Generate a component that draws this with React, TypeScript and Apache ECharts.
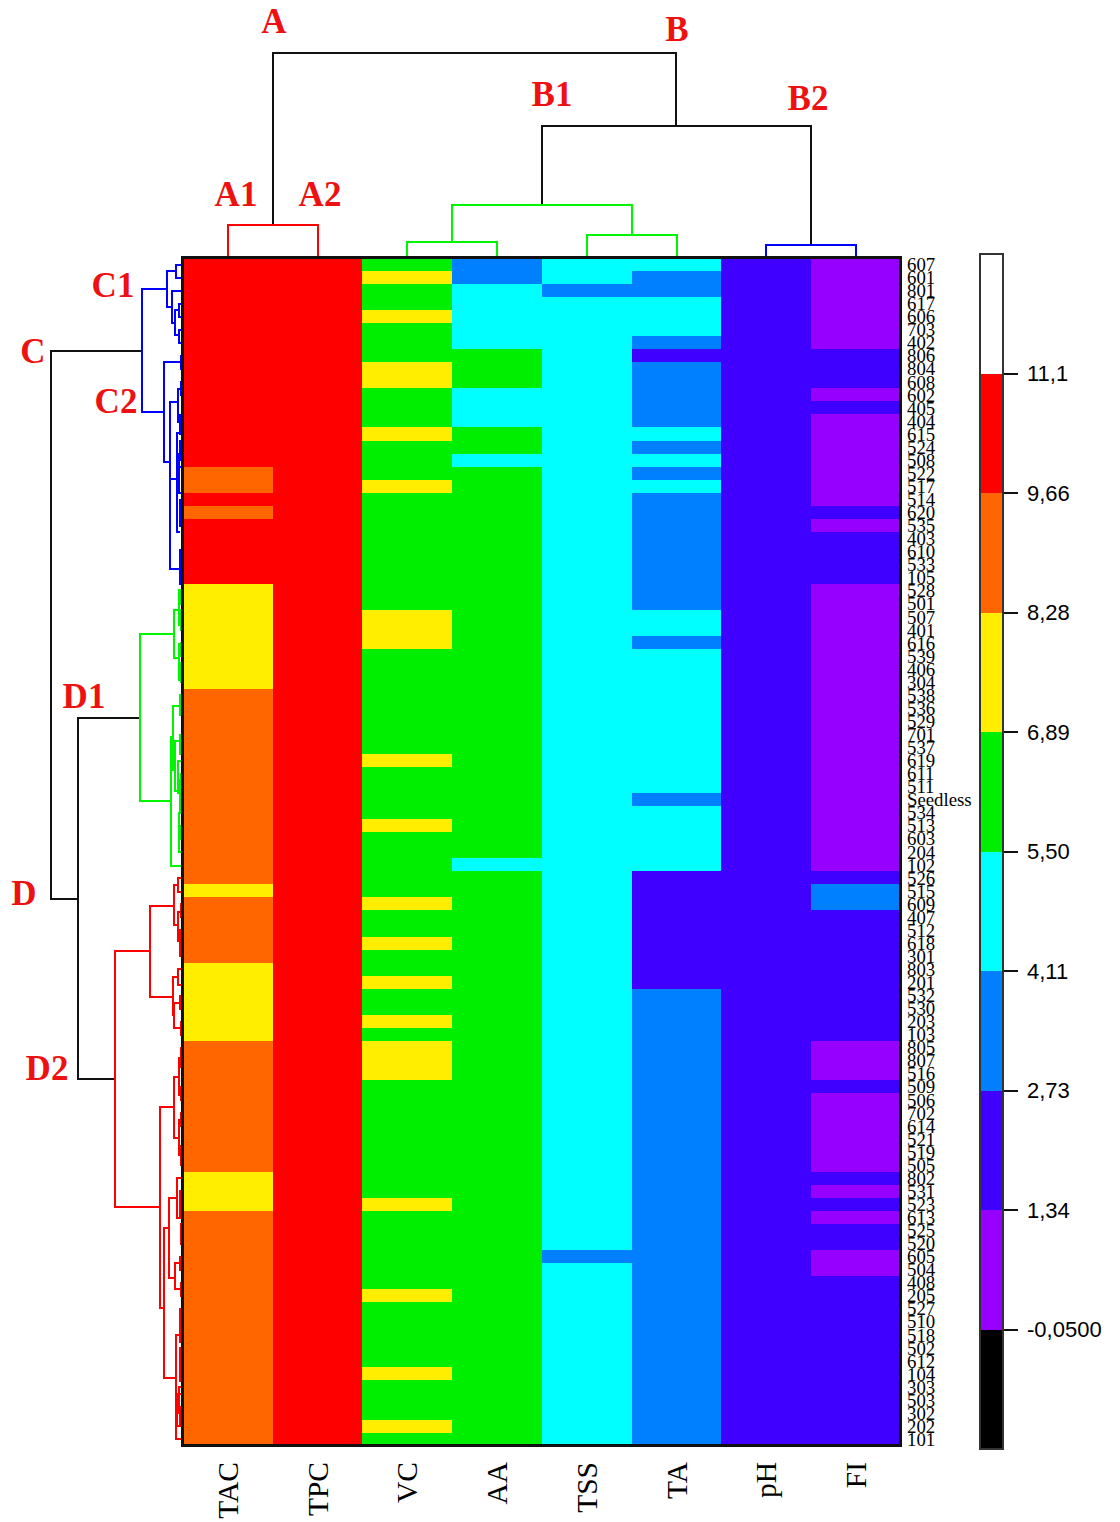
import React, { useEffect, useRef } from "react";
import * as echarts from "echarts";

const R = 10.4, O = 9.0, Y = 7.6, G = 6.2, C = 4.8, B = 3.4, I = 2.0, P = 0.6;

const columns = ["TAC", "TPC", "VC", "AA", "TSS", "TA", "pH", "FI"];
const rowLabels = [
  "607","601","801","617","606","703","402","806","804","608",
  "602","405","404","615","524","508","522","517","514","620",
  "535","403","610","533","105","528","501","507","401","616",
  "539","406","304","538","536","529","701","537","619","611",
  "511","Seedless","534","513","603","204","102","526","515","609",
  "407","512","618","301","803","201","532","530","203","103",
  "805","807","516","509","506","702","614","521","519","505",
  "802","531","523","613","525","520","605","504","408","205",
  "527","510","518","502","612","104","303","503","302","202",
  "101",
];

const tacValues = [
  R,R,R,R,R,R,R,R,R,R,
  R,R,R,R,R,R,O,O,R,O,
  R,R,R,R,R,Y,Y,Y,Y,Y,
  Y,Y,Y,O,O,O,O,O,O,O,
  O,O,O,O,O,O,O,O,Y,O,
  O,O,O,O,Y,Y,Y,Y,Y,Y,
  O,O,O,O,O,O,O,O,O,O,
  Y,Y,Y,O,O,O,O,O,O,O,
  O,O,O,O,O,O,O,O,O,O,
  O,
];
const tpcValues = [
  R,R,R,R,R,R,R,R,R,R,
  R,R,R,R,R,R,R,R,R,R,
  R,R,R,R,R,R,R,R,R,R,
  R,R,R,R,R,R,R,R,R,R,
  R,R,R,R,R,R,R,R,R,R,
  R,R,R,R,R,R,R,R,R,R,
  R,R,R,R,R,R,R,R,R,R,
  R,R,R,R,R,R,R,R,R,R,
  R,R,R,R,R,R,R,R,R,R,
  R,
];
const vcValues = [
  G,Y,G,G,Y,G,G,G,Y,Y,
  G,G,G,Y,G,G,G,Y,G,G,
  G,G,G,G,G,G,G,Y,Y,Y,
  G,G,G,G,G,G,G,G,Y,G,
  G,G,G,Y,G,G,G,G,G,Y,
  G,G,Y,G,G,Y,G,G,Y,G,
  Y,Y,Y,G,G,G,G,G,G,G,
  G,G,Y,G,G,G,G,G,G,Y,
  G,G,G,G,G,Y,G,G,G,Y,
  G,
];
const aaValues = [
  B,B,C,C,C,C,C,G,G,G,
  C,C,C,G,G,C,G,G,G,G,
  G,G,G,G,G,G,G,G,G,G,
  G,G,G,G,G,G,G,G,G,G,
  G,G,G,G,G,G,C,G,G,G,
  G,G,G,G,G,G,G,G,G,G,
  G,G,G,G,G,G,G,G,G,G,
  G,G,G,G,G,G,G,G,G,G,
  G,G,G,G,G,G,G,G,G,G,
  G,
];
const tssValues = [
  C,C,B,C,C,C,C,C,C,C,
  C,C,C,C,C,C,C,C,C,C,
  C,C,C,C,C,C,C,C,C,C,
  C,C,C,C,C,C,C,C,C,C,
  C,C,C,C,C,C,C,C,C,C,
  C,C,C,C,C,C,C,C,C,C,
  C,C,C,C,C,C,C,C,C,C,
  C,C,C,C,C,C,B,C,C,C,
  C,C,C,C,C,C,C,C,C,C,
  C,
];
const taValues = [
  C,B,B,C,C,C,B,I,B,B,
  B,B,B,C,B,C,B,C,B,B,
  B,B,B,B,B,B,B,C,C,B,
  C,C,C,C,C,C,C,C,C,C,
  C,B,C,C,C,C,C,I,I,I,
  I,I,I,I,I,I,B,B,B,B,
  B,B,B,B,B,B,B,B,B,B,
  B,B,B,B,B,B,B,B,B,B,
  B,B,B,B,B,B,B,B,B,B,
  B,
];
const phValues = [
  I,I,I,I,I,I,I,I,I,I,
  I,I,I,I,I,I,I,I,I,I,
  I,I,I,I,I,I,I,I,I,I,
  I,I,I,I,I,I,I,I,I,I,
  I,I,I,I,I,I,I,I,I,I,
  I,I,I,I,I,I,I,I,I,I,
  I,I,I,I,I,I,I,I,I,I,
  I,I,I,I,I,I,I,I,I,I,
  I,I,I,I,I,I,I,I,I,I,
  I,
];
const fiValues = [
  P,P,P,P,P,P,P,I,I,I,
  P,I,P,P,P,P,P,P,P,I,
  P,I,I,I,I,P,P,P,P,P,
  P,P,P,P,P,P,P,P,P,P,
  P,P,P,P,P,P,P,I,B,B,
  I,I,I,I,I,I,I,I,I,I,
  P,P,P,I,P,P,P,P,P,P,
  I,P,I,P,I,I,P,P,I,I,
  I,I,I,I,I,I,I,I,I,I,
  I,
];
const columnValues = [tacValues, tpcValues, vcValues, aaValues, tssValues, taValues, phValues, fiValues];

// colour scale, bottom to top
const scaleEdges = [-0.05, 1.34, 2.73, 4.11, 5.5, 6.89, 8.28, 9.66, 11.1];
const scaleColors = ["#000000", "#9500FF", "#4000FF", "#0080FF", "#00FFFF", "#00EE00", "#FFEE00", "#FF6600", "#FF0000", "#FFFFFF"];
const scaleLabels = ["-0,0500", "1,34", "2,73", "4,11", "5,50", "6,89", "8,28", "9,66", "11,1"];

// dendrogram links: [from, to, spine height, arm end at from, arm end at to]
const topBlack = [
  [1, 5.49, 205, 33, 132],
  [4, 7, 132, 53, 13],
];
const topRed = [[0.5, 1.5, 33, 0, 0]];
const topGreen = [
  [3, 5, 53, 16, 23],
  [2.5, 3.5, 16, 0, 0],
  [4.5, 5.5, 23, 0, 0],
];
const topBlue = [[6.5, 7.5, 13, 0, 0]];

const leftBlack = [
  [7.1, 49.1, 132, 41, 105],
  [35.2, 62.9, 105, 43, 68],
];
const leftBlue = [
  [2.4, 11.8, 41, 16, 19],
  [1.0, 3.75, 16, 7, 11],
  [0.5, 1.5, 7, 0, 0],
  [2.5, 5.0, 11, 0, 8],
  [4.0, 5.9, 8, 4, 4],
  [3.5, 4.5, 4, 0, 0],
  [5.5, 6.5, 4, 0, 0],
  [8.0, 15.6, 19, 2, 13],
  [7.5, 8.5, 2, 0, 0],
  [11.0, 23.8, 13, 5, 3],
  [10.0, 12.6, 5, 2, 3],
  [9.5, 10.5, 2, 0, 0],
  [12.0, 13.5, 3, 0, 0],
  [16.9, 16.9, 13, 6, 6],
  [13.4, 21.0, 6, 3, 3],
  [14.0, 15.5, 3, 0, 0],
  [15.0, 18.0, 4, 0, 0],
  [16.0, 18.0, 5, 0, 0],
  [18.5, 20.5, 3, 0, 0],
  [22.4, 25.0, 3, 1, 0],
  [22.5, 24.5, 2, 0, 0],
];
const leftGreen = [
  [28.8, 41.6, 43, 9, 12],
  [27.0, 30.65, 9, 4, 4],
  [25.4, 28.1, 4, 1, 1],
  [25.5, 26.5, 2, 0, 0],
  [27.0, 28.5, 2, 0, 0],
  [29.6, 32.3, 4, 1, 1],
  [29.5, 30.5, 2, 0, 0],
  [31.0, 32.5, 2, 0, 0],
  [36.7, 46.6, 12, 10, 1],
  [34.3, 39.2, 10, 4, 8],
  [33.5, 35.0, 3, 0, 0],
  [37.0, 40.8, 8, 3, 3],
  [36.5, 38.0, 3, 0, 0],
  [38.5, 41.0, 5, 0, 0],
  [40.0, 42.5, 3, 0, 0],
  [39.5, 40.5, 2, 0, 0],
  [42.5, 45.5, 4, 0, 0],
  [43.5, 44.5, 2, 0, 0],
];
const leftRed = [
  [53.1, 72.7, 68, 33, 23],
  [49.6, 56.6, 33, 9, 10],
  [48.0, 51.1, 9, 5, 5],
  [47.5, 48.6, 5, 0, 0],
  [50.1, 52.3, 5, 2, 3],
  [49.5, 50.5, 2, 0, 0],
  [51.5, 53.5, 3, 0, 0],
  [55.1, 58.0, 10, 5, 9],
  [54.5, 55.7, 5, 0, 0],
  [57.1, 59.0, 9, 3, 2],
  [56.5, 57.5, 3, 0, 0],
  [58.5, 59.5, 2, 0, 0],
  [65.0, 80.4, 23, 9, 19],
  [62.7, 67.4, 9, 4, 4],
  [61.3, 64.1, 4, 1, 1],
  [60.5, 62.0, 2, 0, 0],
  [63.5, 64.5, 2, 0, 0],
  [66.0, 68.7, 4, 1, 1],
  [65.5, 66.5, 2, 0, 0],
  [68.0, 69.5, 2, 0, 0],
  [74.3, 85.8, 19, 14, 7.5],
  [72.0, 78.1, 14, 6, 8],
  [70.5, 73.5, 6, 1, 2],
  [71.5, 73.5, 3, 0, 0],
  [74.0, 75.5, 2, 0, 0],
  [77.0, 79.0, 8, 1, 1],
  [76.5, 77.5, 3, 0, 0],
  [78.5, 79.5, 2, 0, 0],
  [82.5, 90.5, 7.5, 3, 1],
  [80.5, 83.0, 3, 0, 0],
  [83.5, 86.0, 3, 0, 0],
  [86.5, 88.5, 4, 0, 0],
  [87.0, 89.5, 6, 0, 0],
  [88.0, 89.5, 3, 0, 0],
];

const cornerLabels = [
  { t: "A", x: 274, y: 21 }, { t: "B", x: 677, y: 29 },
  { t: "B1", x: 552, y: 94 }, { t: "B2", x: 808, y: 98 },
  { t: "A1", x: 236, y: 194 }, { t: "A2", x: 320, y: 194 },
  { t: "C1", x: 113, y: 285 }, { t: "C2", x: 116, y: 401 },
  { t: "C", x: 33, y: 351 }, { t: "D1", x: 84, y: 696 },
  { t: "D", x: 24, y: 893 }, { t: "D2", x: 47, y: 1068 },
];

const SERIF = '"Liberation Serif", "Times New Roman", serif';
const SANS = '"Liberation Sans", Arial, sans-serif';

function linkSeries(name: string, links: number[][], color: string, xAxisIndex: number, yAxisIndex: number, vertical: boolean) {
  return {
    type: "custom",
    name,
    xAxisIndex,
    yAxisIndex,
    clip: false,
    silent: true,
    z: 5,
    data: links,
    renderItem: (_p: any, api: any) => {
      const a = api.value(0), b = api.value(1), s = api.value(2), ea = api.value(3), eb = api.value(4);
      const pt = (pos: number, h: number) => api.coord(vertical ? [pos, h] : [h, pos]);
      return {
        type: "polyline",
        shape: { points: [pt(a, ea), pt(a, s), pt(b, s), pt(b, eb)] },
        style: { stroke: color, lineWidth: 2, fill: "none" },
      };
    },
  };
}

const hiddenValue = (min: number, max: number, inverse = false) => ({
  type: "value",
  min,
  max,
  inverse,
  show: false,
  splitLine: { show: false },
});

export default function App() {
  const ref = useRef<HTMLDivElement>(null);
  useEffect(() => {
    const chart = echarts.init(ref.current!, null, { renderer: "svg" });
    const cells: number[][] = [];
    columnValues.forEach((vals, c) => vals.forEach((v, r) => cells.push([c, r, v])));

    const pieces = scaleColors.map((color, i) => ({
      min: i === 0 ? -100 : scaleEdges[i - 1],
      max: i === scaleColors.length - 1 ? 100 : scaleEdges[i],
      color,
    }));

    chart.setOption({
      animation: false,
      backgroundColor: "#FFFFFF",
      grid: [
        { left: 183, top: 258, width: 718, height: 1188 },
        { left: 0, top: 258, width: 183, height: 1188 },
        { left: 183, top: 0, width: 718, height: 258 },
        { left: 980, top: 254, width: 23, height: 1195 },
      ],
      xAxis: [
        {
          type: "category", gridIndex: 0, data: columns,
          axisLine: { show: false }, axisTick: { show: false }, splitLine: { show: false },
          axisLabel: { rotate: 90, interval: 0, margin: 16, color: "#000", fontSize: 29.5, fontFamily: SERIF },
        },
        { ...hiddenValue(0, 183, true), gridIndex: 1 },
        { ...hiddenValue(0, 8), gridIndex: 2 },
        { type: "category", gridIndex: 3, data: ["scale"], show: false },
      ],
      yAxis: [
        {
          type: "category", gridIndex: 0, data: rowLabels, inverse: true, position: "right",
          axisLine: { show: false }, axisTick: { show: false }, splitLine: { show: false },
          axisLabel: { interval: 0, margin: 6, color: "#000", fontSize: 18.8, fontFamily: SERIF, hideOverlap: false },
        },
        { ...hiddenValue(0, 91, true), gridIndex: 1 },
        { ...hiddenValue(0, 258), gridIndex: 2 },
        {
          type: "value", gridIndex: 3, min: 0, max: 10, interval: 1, position: "right",
          splitLine: { show: false },
          axisLine: { show: false },
          axisTick: { show: true, length: 15, customValues: [1, 2, 3, 4, 5, 6, 7, 8, 9], lineStyle: { color: "#111", width: 2 } },
          axisLabel: {
            show: true, margin: 24, color: "#000", fontSize: 22, fontFamily: SANS, align: "left",
            customValues: [1, 2, 3, 4, 5, 6, 7, 8, 9],
            formatter: (v: number) => scaleLabels[v - 1] ?? "",
          },
        },
      ],
      visualMap: { show: false, type: "piecewise", seriesIndex: 0, dimension: 2, pieces },
      series: [
        {
          type: "heatmap", xAxisIndex: 0, yAxisIndex: 0, data: cells, silent: true,
          itemStyle: { borderWidth: 0 }, progressive: 0,
        },
        linkSeries("topBlack", topBlack, "#111111", 2, 2, true),
        linkSeries("topRed", topRed, "#FF0000", 2, 2, true),
        linkSeries("topGreen", topGreen, "#00F500", 2, 2, true),
        linkSeries("topBlue", topBlue, "#0000FF", 2, 2, true),
        linkSeries("leftBlack", leftBlack, "#111111", 1, 1, false),
        linkSeries("leftBlue", leftBlue, "#0000FF", 1, 1, false),
        linkSeries("leftGreen", leftGreen, "#00F500", 1, 1, false),
        linkSeries("leftRed", leftRed, "#FF0000", 1, 1, false),
        ...scaleColors.map((color, i) => ({
          type: "bar", name: `band${i}`, stack: "scale", xAxisIndex: 3, yAxisIndex: 3,
          data: [1], barWidth: "100%", silent: true, itemStyle: { color },
        })),
      ],
      graphic: [
        {
          type: "rect", z: 20, silent: true,
          shape: { x: 182.5, y: 257.5, width: 718, height: 1188 },
          style: { fill: "none", stroke: "#111", lineWidth: 3 },
        },
        {
          type: "rect", z: 20, silent: true,
          shape: { x: 980, y: 254, width: 23, height: 1195 },
          style: { fill: "none", stroke: "#333", lineWidth: 2 },
        },
        ...cornerLabels.map((l) => ({
          type: "text", z: 20, silent: true, x: l.x, y: l.y,
          style: {
            text: l.t, fill: "#EE1111", fontFamily: SERIF, fontWeight: "bold", fontSize: 35,
            align: "center", verticalAlign: "middle",
          },
        })),
      ],
    });
    return () => chart.dispose();
  }, []);
  return <div ref={ref} style={{ position: "absolute", left: 0, top: 0, width: 1120, height: 1522, shapeRendering: "crispEdges" }} />;
}
